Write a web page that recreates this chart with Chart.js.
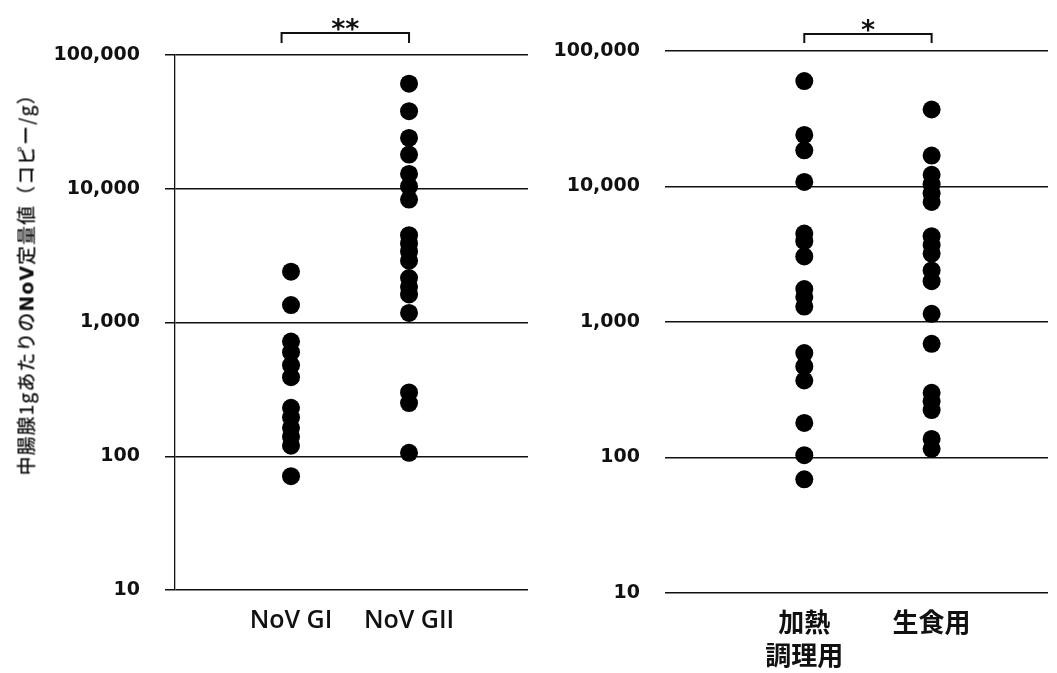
<!DOCTYPE html>
<html lang="ja">
<head>
  <meta charset="UTF-8" />
  <title>NoV 定量値</title>
  <script src="https://cdn.jsdelivr.net/npm/chart.js"></script>
  <style>
    body {
      margin: 0;
      background: #fff;
      width: 1057px;
      height: 673px;
      overflow: hidden;
      position: relative;
    }
    .box {
      position: absolute;
      top: 0;
      height: 673px;
    }
    #leftBox { left: 0; width: 540px; }
    #rightBox { left: 540px; width: 517px; }
    /* y axis title, rotated */
    .ytitle {
      position: absolute;
      left: 25px;
      top: 280px;
      transform: translate(-50%, -50%) rotate(-90deg);
      white-space: nowrap;
      font-family: "Noto Sans CJK JP", sans-serif;
      font-size: 19px;
      letter-spacing: 1px;
      font-weight: 500;
      color: #111;
    }
    .ytitle b { font-family: "DejaVu Sans", sans-serif; }
  </style>
</head>
<body>
  <div class="box" id="leftBox"><canvas id="leftChart"></canvas></div>
  <div class="box" id="rightBox"><canvas id="rightChart"></canvas></div>
  <div class="ytitle">中腸腺1gあたりの<b>NoV</b>定量値（コピー/g）</div>

  <script>
    // categories
    const leftCats = ['NoV GI', 'NoV GII'];
    const rightCats = [['加熱', '調理用'], '生食用'];
    const yTicks = [10, 100, 1000, 10000, 100000];

    // values (copies/g)
    const giVals = [2400, 1350, 720, 600, 480, 390, 230, 195, 163, 140, 120, 71];
    const giiVals = [61000, 38000, 24000, 18000, 12900, 10400, 8300, 4500, 3900, 3400, 2900,
      2150, 1850, 1620, 1180, 300, 250, 106];
    const heatVals = [60000, 24000, 18500, 10800, 4500, 3950, 3050, 1750, 1530, 1300,
      590, 470, 370, 180, 104, 69];
    const rawVals = [37000, 16900, 12200, 10400, 8900, 7700, 4300, 3700, 3200, 2400, 2000,
      1150, 690, 300, 260, 224, 137, 116];

    // significance bracket above the two groups
    const bracketPlugin = {
      id: 'bracket',
      afterDraw(chart, args, o) {
        const { ctx, chartArea, scales } = chart;
        const x1 = scales.x.getPixelForValue(o.from);
        const x2 = scales.x.getPixelForValue(o.to);
        const y = chartArea.top - o.rise;
        ctx.save();
        ctx.strokeStyle = '#111';
        ctx.lineWidth = 2;
        ctx.beginPath();
        ctx.moveTo(x1, y + o.drop);
        ctx.lineTo(x1, y);
        ctx.lineTo(x2, y);
        ctx.lineTo(x2, y + o.drop);
        ctx.stroke();
        ctx.fillStyle = '#111';
        ctx.font = 'bold 27px "DejaVu Sans"';
        ctx.textAlign = 'center';
        ctx.textBaseline = 'alphabetic';
        ctx.fillText(o.text, (x1 + x2) / 2, y + 5);
        ctx.restore();
      }
    };

    function toPoints(vals, idx) {
      return vals.map(v => ({ x: idx, y: v }));
    }

    function makeChart(id, cats, groups, cfg) {
      return new Chart(document.getElementById(id), {
        type: 'scatter',
        data: {
          datasets: groups.map((vals, i) => ({
            data: toPoints(vals, i),
            backgroundColor: '#000',
            borderWidth: 0,
            pointRadius: 9,
            pointHoverRadius: 9
          }))
        },
        options: {
          responsive: true,
          maintainAspectRatio: false,
          animation: false,
          layout: { padding: cfg.padding },
          plugins: {
            legend: { display: false },
            tooltip: { enabled: false },
            bracket: cfg.bracket
          },
          scales: {
            x: {
              type: 'linear',
              min: cfg.xMin,
              max: cfg.xMax,
              grid: { display: false, drawTicks: false },
              border: { display: false },
              afterBuildTicks: axis => { axis.ticks = cats.map((c, i) => ({ value: i })); },
              afterFit: axis => { axis.height = cfg.xHeight; },
              ticks: {
                autoSkip: false,
                maxRotation: 0,
                padding: cfg.xPad,
                color: '#111',
                font: cfg.xFont,
                callback: v => cats[v]
              }
            },
            y: {
              type: 'logarithmic',
              min: 10,
              max: 100000,
              afterBuildTicks: axis => { axis.ticks = yTicks.map(v => ({ value: v })); },
              afterFit: axis => { axis.width = cfg.yWidth; },
              grid: {
                color: '#111',
                lineWidth: 1.5,
                drawTicks: cfg.yTickMarks,
                tickLength: 10
              },
              border: { display: cfg.yBorder, color: '#111', width: 1.3 },
              ticks: {
                padding: 25,
                color: '#111',
                font: { family: 'DejaVu Sans', size: 19, weight: 'bold' },
                callback: v => v.toLocaleString('en-US')
              }
            }
          }
        },
        plugins: [bracketPlugin]
      });
    }

    makeChart('leftChart', leftCats, [giVals, giiVals], {
      padding: { top: 55, right: 12, left: 0, bottom: 0 },
      xMin: -0.983, xMax: 2.008,
      xHeight: 83, xPad: 16,
      xFont: { family: 'Open Sans', size: 25, weight: '600' },
      yWidth: 175, yTickMarks: true, yBorder: true,
      bracket: { from: -0.08, to: 1, rise: 22, drop: 10, text: '**' }
    });

    makeChart('rightChart', rightCats, [heatVals, rawVals], {
      padding: { top: 51, right: 7, left: 0, bottom: 0 },
      xMin: -1.094, xMax: 1.914,
      xHeight: 80, xPad: 13,
      xFont: { family: 'Noto Sans CJK JP', size: 26, weight: 'bold', lineHeight: 1.25 },
      yWidth: 125, yTickMarks: false, yBorder: false,
      bracket: { from: 0, to: 1, rise: 17, drop: 9, text: '*' }
    });
  </script>
</body>
</html>
